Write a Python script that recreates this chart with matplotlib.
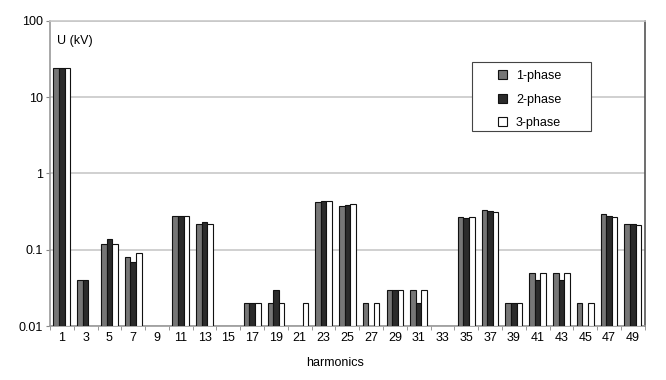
import matplotlib as mpl
mpl.use('Agg')
import matplotlib.pyplot as plt
from matplotlib.patches import Rectangle
from matplotlib.ticker import FixedLocator, NullLocator, FixedFormatter
import numpy as np

plt.rcParams['font.family'] = ['Liberation Sans', 'DejaVu Sans']

harmonics = [1, 3, 5, 7, 9, 11, 13, 15, 17, 19, 21, 23, 25,
             27, 29, 31, 33, 35, 37, 39, 41, 43, 45, 47, 49]

# None = no bar for that harmonic
phase1 = [24, 0.04, 0.12, 0.08, None, 0.28, 0.22, None, 0.02, 0.02, None, 0.42, 0.38,
          0.02, 0.03, 0.03, None, 0.27, 0.33, 0.02, 0.05, 0.05, 0.02, 0.29, 0.22]
phase2 = [24, 0.04, 0.14, 0.07, None, 0.28, 0.23, None, 0.02, 0.03, None, 0.44, 0.385,
          None, 0.03, 0.02, None, 0.26, 0.32, 0.02, 0.04, 0.04, None, 0.28, 0.22]
phase3 = [24, None, 0.12, 0.09, None, 0.28, 0.22, None, 0.02, 0.02, 0.02, 0.44, 0.40,
          0.02, 0.03, 0.03, None, 0.27, 0.31, 0.02, 0.05, 0.05, 0.02, 0.27, 0.21]

series = [('1-phase', phase1, '#767676'),
          ('2-phase', phase2, '#2b2b2b'),
          ('3-phase', phase3, '#ffffff')]

fig = plt.figure(figsize=(6.66, 3.8), dpi=100)
ax = fig.add_axes([0.075, 0.142, 0.893, 0.803])

x = np.arange(len(harmonics))
w = 0.235
for i, (name, vals, col) in enumerate(series):
    xs = [x[j] + (i - 1) * w for j, v in enumerate(vals) if v is not None]
    hs = [v for v in vals if v is not None]
    ax.bar(xs, [h - 0.01 for h in hs], bottom=0.01, width=w, color=col,
           edgecolor='#111111', linewidth=0.8, label=name, zorder=3)

ax.set_yscale('log')
ax.set_ylim(0.01, 100)
ax.set_xlim(-0.5, len(harmonics) - 0.5)

ax.yaxis.set_major_locator(FixedLocator([0.01, 0.1, 1, 10, 100]))
ax.yaxis.set_major_formatter(FixedFormatter(['0.01', '0.1', '1', '10', '100']))
ax.yaxis.set_minor_locator(NullLocator())
ax.grid(axis='y', which='major', color='#c8c8c8', linewidth=1.2, zorder=0)

ax.set_xticks(x)
ax.set_xticklabels([str(h) for h in harmonics])
ax.set_xticks(np.arange(len(harmonics) + 1) - 0.5, minor=True)
ax.tick_params(axis='x', which='major', length=0, labelsize=9, pad=4)
ax.tick_params(axis='x', which='minor', length=3, color='#888888')
ax.tick_params(axis='y', labelsize=9, length=3, color='#888888', pad=2)

for s in ['left', 'bottom']:
    ax.spines[s].set_color('#999999')
    ax.spines[s].set_linewidth(1.2)
ax.spines['top'].set_color('#c8c8c8')
ax.spines['top'].set_linewidth(1.2)
ax.spines['right'].set_color('#555555')
ax.spines['right'].set_linewidth(1.2)

ax.text(0.012, 0.935, 'U (kV)', transform=ax.transAxes, fontsize=9,
        va='center', ha='left')
ax.set_xlabel('harmonics', fontsize=9, labelpad=3)
ax.xaxis.set_label_coords(0.48, -0.1)

# legend frame drawn separately (wide horizontal padding)
ax.add_patch(Rectangle((0.709, 0.639), 0.2, 0.227, transform=ax.transAxes,
                       facecolor='white', edgecolor='#444444', linewidth=0.8,
                       zorder=4))
leg = ax.legend(loc='upper left', bbox_to_anchor=(0.753, 0.839), fontsize=9,
                frameon=False, handlelength=0.7, handleheight=0.7,
                handletextpad=0.75, borderpad=0, labelspacing=0.92,
                borderaxespad=0)
leg.set_zorder(5)

fig.savefig('out.png', dpi=100)
